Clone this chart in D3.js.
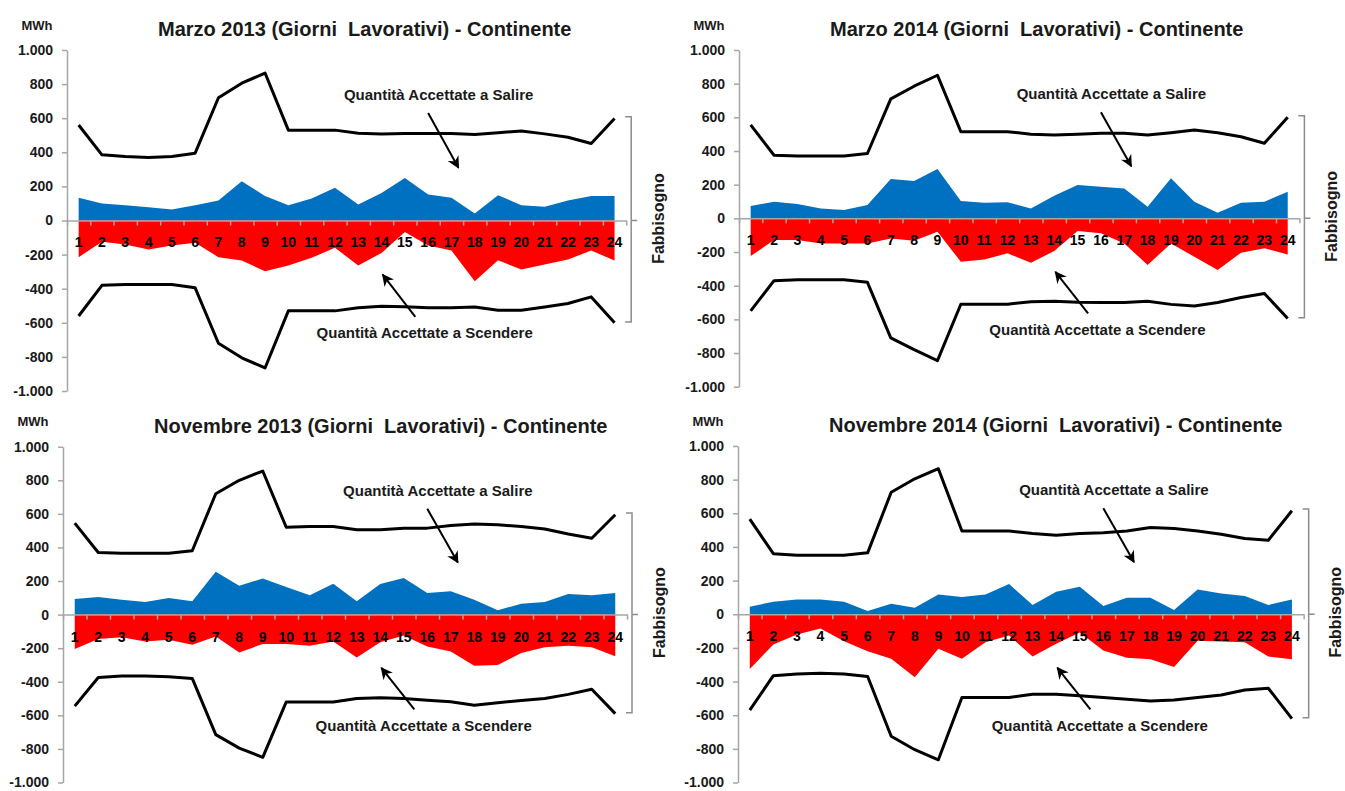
<!DOCTYPE html>
<html>
<head>
<meta charset="utf-8">
<script src="https://cdn.jsdelivr.net/npm/d3@7"></script>
<style>
  html, body { margin: 0; padding: 0; background: #fff; }
  svg { display: block; font-family: "Liberation Sans", Arial, sans-serif; }
</style>
</head>
<body>
<svg id="chart" width="1345" height="791"></svg>
<script>
// Ore del giorno (1-24) e valori in MWh
const hours = d3.range(1, 25);
const yTicks = d3.range(-1000, 1001, 200);

const titleMar13 = "Marzo 2013 (Giorni  Lavorativi) - Continente";
const titleMar14 = "Marzo 2014 (Giorni  Lavorativi) - Continente";
const titleNov13 = "Novembre 2013 (Giorni  Lavorativi) - Continente";
const titleNov14 = "Novembre 2014 (Giorni  Lavorativi) - Continente";

// Marzo 2013
const fabbSalireMar13   = [560,385,375,370,375,395,720,805,865,530,530,530,512,508,510,510,510,505,515,525,508,488,452,598];
const accSalireMar13    = [133,100,90,78,65,90,117,230,143,90,129,192,94,162,250,152,133,41,148,90,80,117,143,143];
const accScendereMar13  = [-215,-125,-141,-170,-147,-131,-215,-235,-297,-264,-219,-160,-264,-190,-68,-147,-176,-356,-233,-287,-258,-229,-176,-235];
const fabbScendereMar13 = [-560,-380,-375,-375,-375,-395,-720,-805,-865,-530,-530,-530,-512,-503,-506,-512,-512,-507,-526,-526,-507,-487,-448,-600];

// Marzo 2014
const fabbSalireMar14   = [555,375,370,370,370,385,710,785,850,515,515,515,500,495,500,505,505,495,509,525,509,485,446,600];
const accSalireMar14    = [73,99,85,59,49,79,233,222,293,103,93,95,59,134,198,188,178,69,238,99,33,93,99,158];
const accScendereMar14  = [-224,-129,-129,-149,-149,-149,-119,-133,-80,-258,-244,-208,-264,-194,-75,-89,-149,-277,-149,-228,-307,-204,-178,-214];
const fabbScendereMar14 = [-550,-370,-365,-365,-365,-380,-710,-780,-845,-510,-510,-510,-495,-493,-499,-500,-500,-493,-511,-521,-500,-470,-446,-595];

// Novembre 2013
const fabbSalireNov13   = [545,370,365,365,365,380,720,800,855,520,525,525,505,505,515,515,530,540,535,525,510,480,455,595];
const accSalireNov13    = [93,105,89,75,99,79,255,172,215,164,115,184,79,182,218,129,139,89,26,65,75,123,115,129];
const accScendereNov13  = [-205,-145,-135,-160,-150,-180,-130,-225,-175,-175,-185,-160,-255,-165,-125,-190,-220,-305,-300,-228,-194,-186,-194,-248];
const fabbScendereNov13 = [-545,-375,-365,-365,-370,-380,-715,-795,-850,-520,-520,-520,-500,-495,-500,-510,-519,-540,-525,-511,-500,-475,-445,-590];

// Novembre 2014
const fabbSalireNov14   = [565,360,350,350,350,365,725,805,865,495,495,495,480,470,480,485,495,515,510,495,475,450,440,615];
const accSalireNov14    = [45,75,88,88,75,20,63,39,118,102,118,180,55,133,163,49,98,98,26,147,124,108,55,88];
const accScendereNov14  = [-325,-180,-120,-85,-160,-220,-265,-375,-205,-265,-166,-127,-251,-176,-108,-216,-259,-268,-314,-157,-162,-166,-251,-268];
const fabbScendereNov14 = [-570,-365,-355,-350,-355,-370,-725,-805,-865,-495,-495,-495,-475,-475,-485,-495,-505,-515,-510,-495,-480,-450,-440,-620];

const panels = [
  { title: titleMar13, fs: fabbSalireMar13, as: accSalireMar13, ad: accScendereMar13, fd: fabbScendereMar13,
    box: { axisX: 67,  yTop: 50,    yBot: 391,   band: 23.3 } },
  { title: titleMar14, fs: fabbSalireMar14, as: accSalireMar14, ad: accScendereMar14, fd: fabbScendereMar14,
    box: { axisX: 739, yTop: 50,    yBot: 386.7, band: 23.35 } },
  { title: titleNov13, fs: fabbSalireNov13, as: accSalireNov13, ad: accScendereNov13, fd: fabbScendereNov13,
    box: { axisX: 63,  yTop: 446.7, yBot: 782.5, band: 23.5 } },
  { title: titleNov14, fs: fabbSalireNov14, as: accSalireNov14, ad: accScendereNov14, fd: fabbScendereNov14,
    box: { axisX: 738, yTop: 446,   yBot: 782.5, band: 23.57 } }
];

const itFormat = d3.formatLocale({ decimal: ",", thousands: ".", grouping: [3], currency: ["", "€"], minus: "-" }).format(",d");

const BLUE = "#0070c0", RED = "#ff0000", AXIS = "#a6a6a6", TEXT = "#1a1a1a";

const svg = d3.select("#chart");

svg.append("defs").append("marker")
  .attr("id", "arrow")
  .attr("viewBox", "0 0 10 10")
  .attr("refX", 9).attr("refY", 5)
  .attr("markerWidth", 6).attr("markerHeight", 6)
  .attr("markerUnits", "strokeWidth")
  .attr("orient", "auto")
  .append("path")
  .attr("d", "M0,0 L10,5 L0,10 L3,5 Z")
  .attr("fill", "#000");

panels.forEach(p => {
  const b = p.box;
  const xEnd = b.axisX + 24 * b.band;
  const x = d3.scaleLinear().domain([0.5, 24.5]).range([b.axisX, xEnd]);
  const y = d3.scaleLinear().domain([-1000, 1000]).range([b.yBot, b.yTop]);
  const g = svg.append("g");

  // aree delle quantità accettate
  const area = vals => d3.area()
    .x((d, i) => x(hours[i]))
    .y0(y(0))
    .y1(d => y(d))(vals);
  g.append("path").attr("d", area(p.as)).attr("fill", BLUE);
  g.append("path").attr("d", area(p.ad)).attr("fill", RED);

  // asse verticale
  const yAxis = d3.axisLeft(y).tickValues(yTicks).tickSize(5).tickSizeOuter(0).tickFormat(itFormat);
  const ya = g.append("g").attr("transform", `translate(${b.axisX},0)`).call(yAxis);
  ya.select(".domain").attr("stroke", AXIS).attr("stroke-width", 1.5);
  ya.selectAll(".tick line").attr("stroke", AXIS).attr("stroke-width", 1.5);
  ya.selectAll(".tick text")
    .attr("x", -14)
    .attr("fill", TEXT)
    .style("font-size", "14px").style("font-weight", "bold")
    .style("font-family", "'Liberation Sans', Arial, sans-serif");

  // asse delle ore sullo zero
  const xAxis = d3.axisBottom(x).tickValues(d3.range(0.5, 25, 1)).tickSize(5).tickSizeOuter(0).tickFormat("");
  const xa = g.append("g").attr("transform", `translate(0,${y(0)})`).call(xAxis);
  xa.select(".domain").attr("stroke", AXIS).attr("stroke-width", 1.5);
  xa.selectAll(".tick line").attr("stroke", AXIS).attr("stroke-width", 1.5);

  g.append("g").selectAll("text").data(hours).join("text")
    .attr("x", d => x(d))
    .attr("y", y(0) + 22)
    .attr("dy", "0.35em")
    .attr("text-anchor", "middle")
    .attr("fill", "#000")
    .style("font-size", "14px").style("font-weight", "bold")
    .text(d => d);

  // linee del fabbisogno
  const line = d3.line().x((d, i) => x(hours[i])).y(d => y(d));
  [p.fs, p.fd].forEach(vals => {
    g.append("path").attr("d", line(vals))
      .attr("fill", "none").attr("stroke", "#000")
      .attr("stroke-width", 3).attr("stroke-linejoin", "round");
  });

  // parentesi "Fabbisogno"
  const bx = xEnd + 5;
  const bTop = y(p.fs[23] + 10), bBot = y(p.fd[23] + 5);
  g.append("path")
    .attr("d", `M${bx - 6},${bTop} H${bx} V${bBot} H${bx - 6} M${bx},${y(0)} H${bx + 6}`)
    .attr("fill", "none").attr("stroke", "#8c8c8c").attr("stroke-width", 1.5);
  g.append("text")
    .attr("transform", `translate(${bx + 27},${y(0) - 2}) rotate(-90)`)
    .attr("text-anchor", "middle").attr("dy", "0.35em")
    .attr("fill", TEXT)
    .style("font-size", "16px").style("font-weight", "bold")
    .text("Fabbisogno");

  // titolo e unità
  g.append("text")
    .attr("x", b.axisX + 91).attr("y", b.yTop - 21).attr("dy", "0.35em")
    .attr("fill", TEXT)
    .style("font-size", "20px").style("font-weight", "bold").style("white-space", "pre")
    .text(p.title);
  g.append("text")
    .attr("x", b.axisX - 30).attr("y", b.yTop - 25).attr("dy", "0.35em")
    .attr("text-anchor", "middle").attr("fill", TEXT)
    .style("font-size", "13px").style("font-weight", "bold")
    .text("MWh");

  // etichette con frecce
  g.append("text")
    .attr("x", x(16.45)).attr("y", y(740)).attr("dy", "0.35em")
    .attr("text-anchor", "middle").attr("fill", TEXT)
    .style("font-size", "15px").style("font-weight", "bold")
    .text("Quantità Accettate a Salire");
  g.append("line")
    .attr("x1", x(16.0)).attr("y1", y(630)).attr("x2", x(17.3)).attr("y2", y(310))
    .attr("stroke", "#000").attr("stroke-width", 2).attr("marker-end", "url(#arrow)");

  g.append("text")
    .attr("x", x(15.85)).attr("y", y(-660)).attr("dy", "0.35em")
    .attr("text-anchor", "middle").attr("fill", TEXT)
    .style("font-size", "15px").style("font-weight", "bold")
    .text("Quantità Accettate a Scendere");
  g.append("line")
    .attr("x1", x(15.45)).attr("y1", y(-565)).attr("x2", x(14.05)).attr("y2", y(-318))
    .attr("stroke", "#000").attr("stroke-width", 2).attr("marker-end", "url(#arrow)");
});
</script>
</body>
</html>
